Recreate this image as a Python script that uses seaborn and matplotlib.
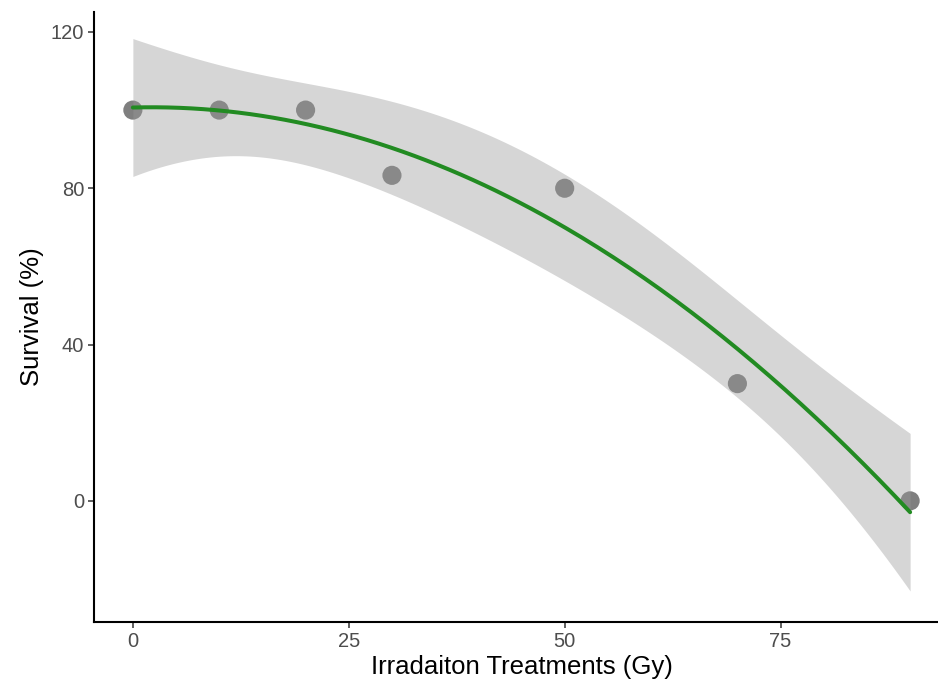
import numpy as np
import pandas as pd
import seaborn as sns
from matplotlib import pyplot as plt

# data
dose = [0, 10, 20, 30, 50, 70, 90]
survival = [100, 100, 100, 83.3, 80, 30, 0]
x_ticks = [0, 25, 50, 75]
y_ticks = [0, 40, 80, 120]

df = pd.DataFrame({"dose": dose, "survival": survival})

# quadratic fit with 95% t-based band (like geom_smooth(method="lm", formula=y~poly(x,2)))
X = np.vander(df["dose"].to_numpy(float), 3)
coef, res, _, _ = np.linalg.lstsq(X, df["survival"].to_numpy(float), rcond=None)
dof = len(df) - 3
sigma2 = np.sum((df["survival"] - X @ coef) ** 2) / dof
cov = sigma2 * np.linalg.inv(X.T @ X)
T975 = 2.776  # t quantile, df = 4

grid = np.linspace(df["dose"].min(), df["dose"].max(), 200)
G = np.vander(grid, 3)
fit = pd.DataFrame({"dose": grid, "pred": G @ coef})
se = np.sqrt(np.einsum("ij,jk,ik->i", G, cov, G))
fit["lo"] = fit["pred"] - T975 * se
fit["hi"] = fit["pred"] + T975 * se

sns.set_style("ticks")
plt.rcParams["font.family"] = ["Liberation Sans", "DejaVu Sans"]

fig = plt.figure(figsize=(9.38, 6.84), dpi=100)
# panel runs past the right edge of the image, as in the reference
ax = fig.add_axes([94 / 938, 1 - 622 / 684, (949 - 94) / 938, (622 - 12) / 684])

sns.scatterplot(df, x="dose", y="survival", s=190, color="#7f7f7f",
                edgecolor="none", ax=ax, zorder=2, clip_on=False)
ax.fill_between(fit["dose"], fit["lo"], fit["hi"], color="#999999",
                alpha=0.4, linewidth=0, zorder=3)
sns.lineplot(fit, x="dose", y="pred", color="#228B22", linewidth=2.9,
             ax=ax, zorder=4)

ax.set_xlim(-4.5, 94.5)
ax.set_ylim(-31, 125.1)
ax.set_xticks(x_ticks)
ax.set_yticks(y_ticks)
ax.set_xlabel("Irradaiton Treatments (Gy)", fontsize=18.5, color="black", labelpad=3)
ax.set_ylabel("Survival (%)", fontsize=18.5, color="black", labelpad=5)
ax.tick_params(labelsize=14.5, labelcolor="#4d4d4d", width=1.1, length=4,
               color="#333333", pad=3)
for side in ["left", "bottom"]:
    ax.spines[side].set_linewidth(1.5)
    ax.spines[side].set_color("black")
sns.despine(ax=ax)

fig.savefig("out.png", dpi=100)
